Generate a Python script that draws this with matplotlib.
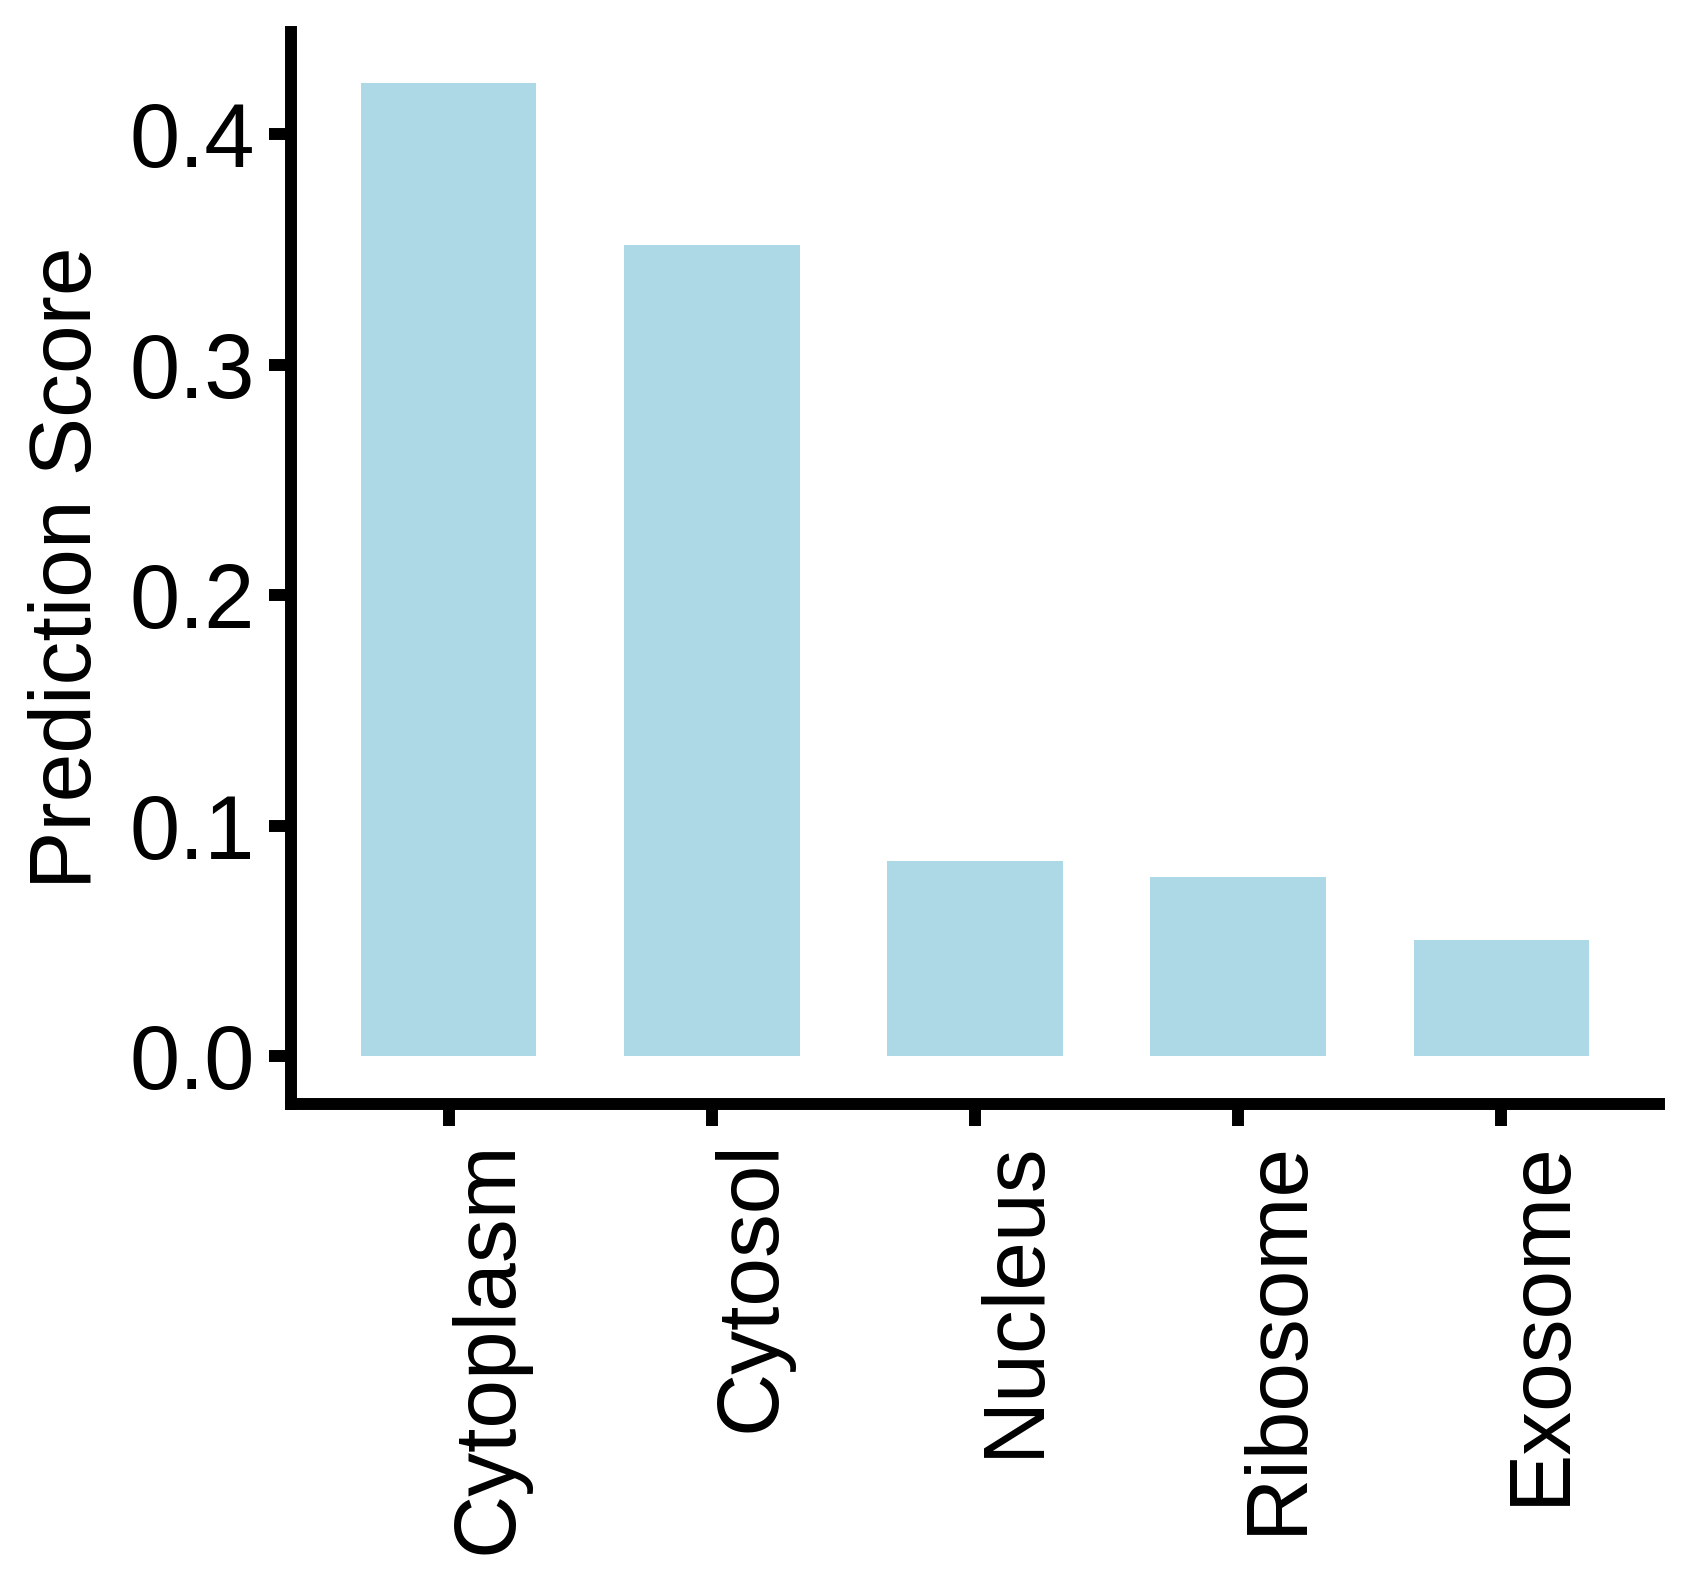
import numpy as np
import matplotlib
matplotlib.use("Agg")
import matplotlib.pyplot as plt

plt.rcParams['font.family'] = ['Liberation Sans', 'DejaVu Sans']

locations = ['Cytoplasm', 'Cytosol', 'Nucleus', 'Ribosome', 'Exosome']
scores = [0.422, 0.352, 0.0846, 0.0777, 0.0503]
yticks = [0.0, 0.1, 0.2, 0.3, 0.4]

fig = plt.figure(figsize=(16.85, 15.86), dpi=100)
ax = fig.add_axes([291 / 1685, 1 - 1104 / 1586, (1659 - 291) / 1685, (1104 - 32) / 1586])

x = np.arange(len(locations))
ax.bar(x, scores, width=0.666, color='#add8e6', linewidth=0)

ax.set_xlim(-0.6, 4.6)
ax.set_ylim(-0.0208, 0.4443)
ax.set_xticks(x)
ax.set_xticklabels(locations, rotation=90, ha='left', va='top', fontsize=63)
ax.set_yticks(yticks)
ax.set_yticklabels([f'{v:.1f}' for v in yticks], fontsize=65)

for side in ['top', 'right']:
    ax.spines[side].set_visible(False)
for side in ['left', 'bottom']:
    ax.spines[side].set_linewidth(8.6)
    ax.spines[side].set_capstyle('projecting')

ax.tick_params(axis='both', length=16, width=8.6, pad=10, color='black')
ax.set_ylabel('Prediction Score', fontsize=63, labelpad=15)

fig.savefig('out.png', dpi=100)
